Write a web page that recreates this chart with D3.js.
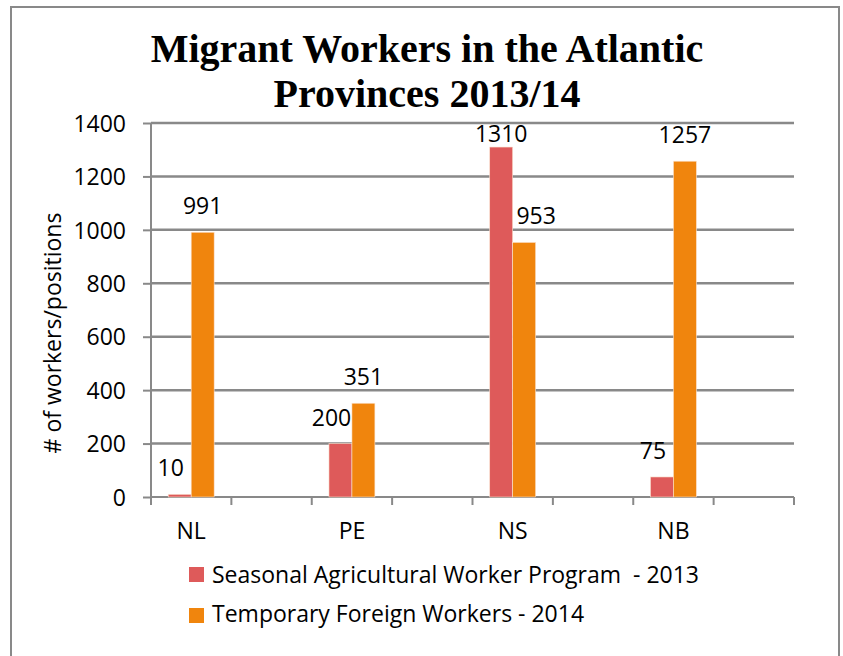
<!DOCTYPE html>
<html>
<head>
<meta charset="utf-8">
<script src="https://cdn.jsdelivr.net/npm/d3@7"></script>
<style>
  body { margin: 0; background: #fff; }
  text { font-family: "Open Sans", sans-serif; fill: #000; white-space: pre; }
</style>
</head>
<body>
<div id="chart"></div>
<script>
// provinces, with empty slots between them as in the original sheet
let provinces = ["NL", "", "PE", "", "NS", "", "NB", ""]
let seriesNames = ["Seasonal Agricultural Worker Program  - 2013", "Temporary Foreign Workers - 2014"]
let seasonal = [10, null, 200, null, 1310, null, 75, null]
let temporary = [991, null, 351, null, 953, null, 1257, null]
let yTicks = [0, 200, 400, 600, 800, 1000, 1200, 1400]
let colors = ["#DE5A5A", "#F0850D"]

let width = 843
let height = 656
let margin = { top: 123, left: 151, right: 49, bottom: 159 }

let svg = d3.select("#chart").append("svg")
  .attr("width", width)
  .attr("height", height)

// outer frame
svg.append("rect")
  .attr("x", 11).attr("y", 7)
  .attr("width", 828).attr("height", 700)
  .attr("fill", "none")
  .attr("stroke", "#898989")
  .attr("stroke-width", 2)

// title
let title = svg.append("text")
  .attr("text-anchor", "middle")
  .style("font-family", "'Liberation Serif', serif")
  .style("font-weight", "bold")
  .style("font-size", "40px")
title.append("tspan").attr("x", 427).attr("y", 62).text("Migrant Workers in the Atlantic")
title.append("tspan").attr("x", 427).attr("y", 107).text("Provinces 2013/14")

let x0 = d3.scaleBand()
  .domain(d3.range(provinces.length))
  .range([margin.left, width - margin.right])

let x1 = d3.scaleBand()
  .domain([0, 1])
  .range([0, x0.bandwidth()])
  .paddingOuter(0.75)

let y = d3.scaleLinear()
  .domain([0, 1400])
  .range([height - margin.bottom, margin.top])

// gridlines
svg.append("g")
  .selectAll("line")
  .data(yTicks.slice(1))
  .enter().append("line")
  .attr("x1", margin.left)
  .attr("x2", width - margin.right)
  .attr("y1", d => y(d))
  .attr("y2", d => y(d))
  .attr("stroke", "#898989")
  .attr("stroke-width", 2.5)

// y axis
let yAxis = svg.append("g")
  .attr("transform", "translate(" + margin.left + ",0)")
  .call(d3.axisLeft(y).tickValues(yTicks).tickFormat(d3.format("d")).tickSize(8).tickPadding(17))
yAxis.selectAll("path, line").attr("stroke", "#898989").attr("stroke-width", 2)
yAxis.select(".domain").attr("d", "M0," + (y(0) + 8) + "V" + margin.top)
yAxis.selectAll("text")
  .style("font-family", "'Open Sans', sans-serif")
  .style("font-size", "23px")
  .attr("dy", "0.36em")

// x axis: ticks at slot boundaries
let xAxis = svg.append("g")
let bounds = d3.range(provinces.length + 1).map(i => margin.left + i * x0.step())
xAxis.append("line")
  .attr("x1", margin.left).attr("x2", width - margin.right)
  .attr("y1", y(0)).attr("y2", y(0))
  .attr("stroke", "#898989").attr("stroke-width", 2)
xAxis.selectAll(".tick")
  .data(bounds)
  .enter().append("line")
  .attr("x1", d => d).attr("x2", d => d)
  .attr("y1", y(0)).attr("y2", y(0) + 8)
  .attr("stroke", "#898989").attr("stroke-width", 2)
xAxis.selectAll(".lab")
  .data(provinces)
  .enter().append("text")
  .attr("x", (d, i) => x0(i) + x0.bandwidth() / 2)
  .attr("y", 539)
  .attr("text-anchor", "middle")
  .style("font-size", "23px")
  .text(d => d)

// y axis title
svg.append("text")
  .attr("transform", "translate(61,333) rotate(-90)")
  .attr("text-anchor", "middle")
  .style("font-size", "23px")
  .text("# of workers/positions")

// bars
let rows = provinces.map((p, i) => ({ i: i, vals: [seasonal[i], temporary[i]] }))
let groups = svg.append("g")
  .selectAll("g")
  .data(rows.filter(r => r.vals[0] != null))
  .enter().append("g")
  .attr("transform", d => "translate(" + x0(d.i) + ",0)")

groups.selectAll("rect")
  .data(d => d.vals.map((v, k) => ({ k: k, v: v, other: d.vals[1 - k] })))
  .enter().append("rect")
  .attr("x", d => x1(d.k))
  .attr("width", x1.bandwidth())
  .attr("y", d => y(d.v))
  .attr("height", d => y(0) - y(d.v))
  .attr("fill", d => colors[d.k])
  .attr("stroke", "#fbe3d0")
  .attr("stroke-width", 0.6)

// value labels: shorter bar's label nudged outward, kept inside plot top
groups.selectAll("text")
  .data(d => d.vals.map((v, k) => ({ k: k, v: v, other: d.vals[1 - k] })))
  .enter().append("text")
  .attr("x", d => {
    let cx = x1(d.k) + x1.bandwidth() / 2
    if (d.v < d.other) cx += d.k == 0 ? -9 : 12
    return cx
  })
  .attr("y", d => Math.max(y(d.v) - 18, margin.top + 19))
  .attr("text-anchor", "middle")
  .style("font-size", "23px")
  .text(d => d.v)

// legend
let legend = svg.append("g")
seriesNames.forEach(function(name, k) {
  legend.append("rect")
    .attr("x", 189).attr("y", 567 + k * 41)
    .attr("width", 15).attr("height", 15)
    .attr("fill", colors[k])
  legend.append("text")
    .attr("x", 212).attr("y", 583 + k * 39)
    .style("font-size", "23px")
    .text(name)
})
</script>
</body>
</html>
